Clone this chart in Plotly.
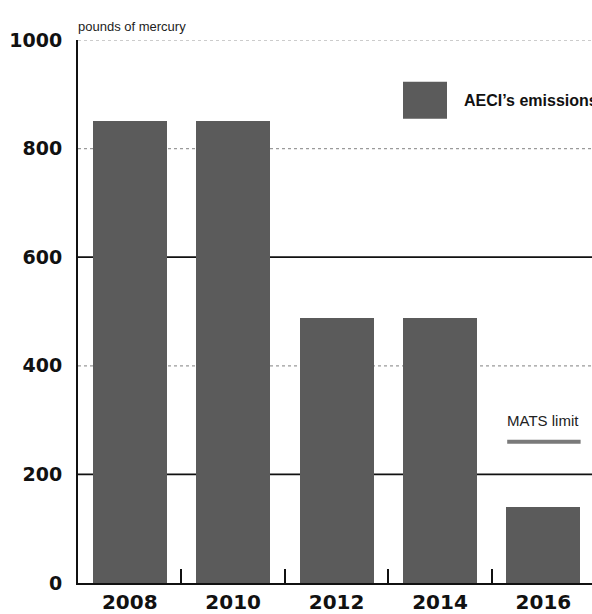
import plotly.graph_objects as go

years = ["2008", "2010", "2012", "2014", "2016"]
emissions = [850, 850, 488, 488, 140]
mats_year = "2016"
mats_limit = 260
y_ticks = [0, 200, 400, 600, 800, 1000]
solid_grid = [200, 600]
dotted_grid = [400, 800, 1000]

bar_color = "#5b5b5b"
bar_w = 0.715

fig = go.Figure()
fig.add_trace(go.Bar(x=years, y=emissions, width=bar_w, marker=dict(color=bar_color, line=dict(width=0)),
                     name="AECI's emissions", showlegend=False))

shapes = []
for v in dotted_grid:
    shapes.append(dict(type="line", xref="paper", yref="y", x0=0, x1=1, y0=v, y1=v,
                       line=dict(color="#9a9a9a", width=1.2, dash="dot"), layer="below"))
for v in solid_grid:
    shapes.append(dict(type="line", xref="paper", yref="y", x0=0, x1=1, y0=v, y1=v,
                       line=dict(color="#111111", width=1.8), layer="below"))
# MATS limit line over its category
mi = years.index(mats_year)
shapes.append(dict(type="line", xref="x", yref="y", x0=mi - 0.35, x1=mi + 0.36, y0=mats_limit, y1=mats_limit,
                   line=dict(color="#7a7a7a", width=4)))
# legend square
shapes.append(dict(type="rect", xref="paper", yref="paper", x0=(403 - 78) / 514, x1=(447 - 78) / 514,
                   y0=(585 - 119) / 545, y1=(585 - 82) / 545, fillcolor=bar_color, line=dict(width=0)))

annotations = [
    dict(text="pounds of mercury", xref="paper", yref="paper", x=-0.004, y=1.008, xanchor="left", yanchor="bottom",
         showarrow=False, font=dict(family="Liberation Sans", size=13, color="#222")),
    dict(text="AECI’s emissions", xref="paper", yref="paper", x=(462 - 78) / 514, y=(585 - 101) / 545,
         xanchor="left", yanchor="middle", showarrow=False,
         font=dict(family="Liberation Sans", size=16, color="#111", weight=600)),
    dict(text="MATS limit", xref="x", yref="y", x=mi, y=mats_limit + 40, xanchor="center", yanchor="middle",
         showarrow=False, font=dict(family="Liberation Sans", size=15, color="#222")),
]

fig.update_layout(
    width=592, height=614,
    margin=dict(l=78, r=0, t=40, b=29, pad=0),
    paper_bgcolor="white", plot_bgcolor="white",
    shapes=shapes, annotations=annotations,
    bargap=0,
    xaxis=dict(type="category", range=[-0.5, 4.47], showgrid=False, zeroline=False,
               showline=True, linecolor="#111", linewidth=2,
               ticks="inside", tickson="boundaries", ticklen=14, tickwidth=2, tickcolor="#111",
               tickfont=dict(family="DejaVu Sans", size=20, color="#111", weight="bold")),
    yaxis=dict(range=[0, 1000], tickvals=y_ticks, showgrid=False, zeroline=False,
               showline=True, linecolor="#111", linewidth=2, ticks="", ticklabelstandoff=10,
               tickfont=dict(family="DejaVu Sans", size=19, color="#111", weight="bold")),
)

fig.write_html("out.html", config={"displayModeBar": False},
               post_script="document.body.style.margin='0';document.body.style.overflow='hidden';")
